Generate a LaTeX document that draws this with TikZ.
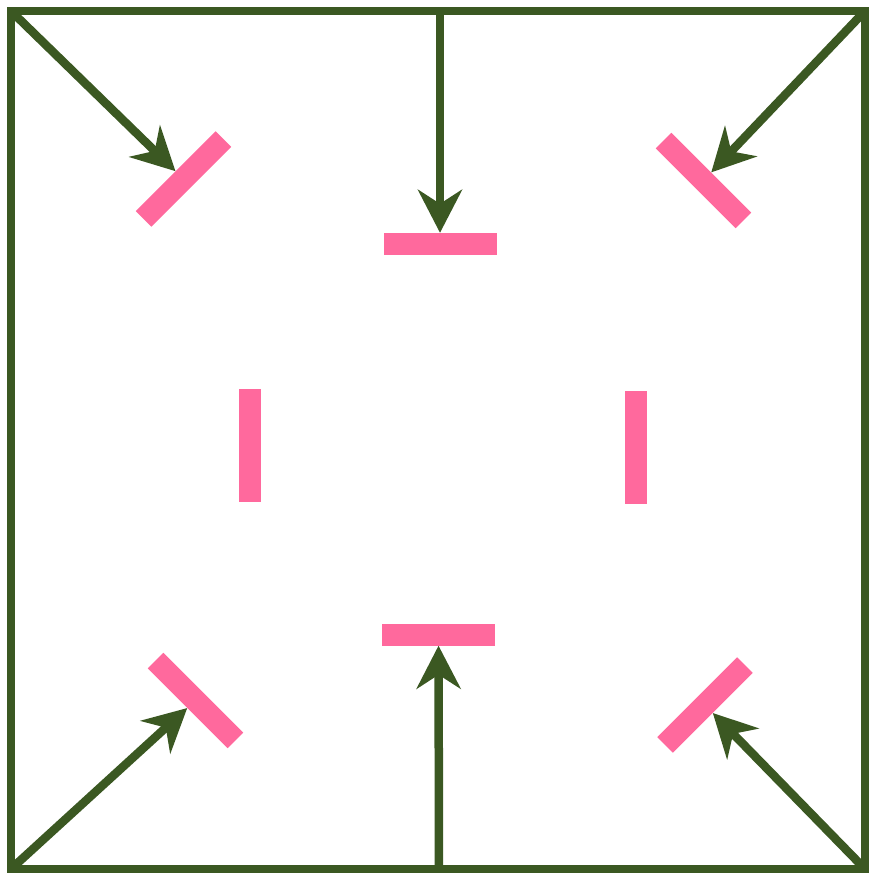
\documentclass[tikz,border=0pt]{standalone}
\usetikzlibrary{arrows.meta}
\definecolor{frame}{RGB}{59,88,34}
\definecolor{barpink}{RGB}{255,105,157}
\begin{document}
\begin{tikzpicture}[x=1pt,y=-1pt,
  bar/.style={fill=barpink,draw=none,inner sep=0pt,minimum width=113pt,minimum height=22pt},
  conn/.style={draw=frame,line width=8.5pt,-{Stealth[length=43pt,width=44pt,inset=14pt]}}]
\useasboundingbox (0,0) rectangle (869,874);
\fill[white] (0,0) rectangle (869,874);
% frame corners
\coordinate (tl) at (11,11);
\coordinate (tr) at (865,11);
\coordinate (bl) at (11,869);
\coordinate (br) at (865,869);
\coordinate (tm) at (440,11);
\coordinate (bm) at (439,869);
\draw[frame,line width=8.5pt] (tl) -- (tr) -- (br) -- (bl) -- cycle;
% bars
\node[bar,rotate=45] (b1) at (183.5,179) {};
\node[bar] (b2) at (440,244) {};
\node[bar,rotate=-45] (b3) at (703.5,180.5) {};
\node[bar,rotate=90] (b4) at (249.5,445) {};
\node[bar,rotate=90] (b5) at (635.5,447) {};
\node[bar,rotate=-45] (b6) at (195.5,700.5) {};
\node[bar] (b7) at (438.5,634.5) {};
\node[bar,rotate=45] (b8) at (705,705) {};
% arrows
\draw[conn] (tl) -- (b1);
\draw[conn] (tm) -- (b2);
\draw[conn] (tr) -- (b3);
\draw[conn] (bl) -- (b6);
\draw[conn] (bm) -- (b7);
\draw[conn] (br) -- (b8);
\end{tikzpicture}
\end{document}
